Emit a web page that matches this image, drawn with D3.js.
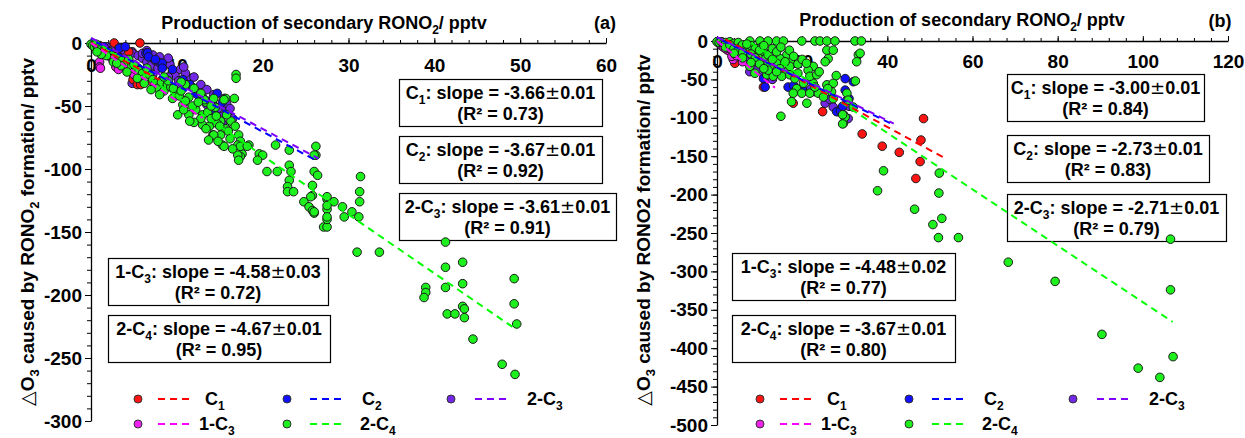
<!DOCTYPE html>
<html>
<head>
<meta charset="utf-8">
<script src="https://cdn.jsdelivr.net/npm/d3@7"></script>
<style>
  body { margin: 0; background: #fff; }
  svg { display: block; font-family: "Liberation Sans", Arial, sans-serif; font-weight: bold; }
</style>
</head>
<body>
<svg id="chart" width="1245" height="438"></svg>
<script>
// ---------------- data ----------------
// group names: [main text, subscript]
const groupNames = [["C", "1"], ["C", "2"], ["2-C", "3"], ["1-C", "3"], ["2-C", "4"]];

// Panel (a): [production of secondary RONO2, ΔO3] in pptv
const aC1 = [[0.3,-1],[0.6,-3],[1.0,-2],[1.4,-5],[2.7,0],[5.7,0],[2.0,-6],[3.0,-9],[3.6,-12],[4.4,-7],
  [4.2,-16],[4.8,-20],[5.0,-24],[4.9,-29],[5.4,-33],[5.8,-33],[6.2,-27],[8.3,-29],[7.0,-30],[3.3,-4]];
const aC2 = [[0.2,-1],[0.8,-2],[1.5,-3],[3.3,-4],[4.0,-3],[6.4,-8],[6.6,-7.7],[6.7,-11],[8.1,-16],[8.3,-16],
  [8.3,-20],[7.5,-13],[9.5,-21],[10.7,-29],[12.5,-41],[12.4,-41],[14.3,-53],[14.7,-40],[15.3,-47],[11.5,-33],[13.5,-46]];
const a2C3 = [[0.2,-1],[0.5,-2],[1,-4],[1.8,-3],[2.5,-5],[3.5,-6],[4.8,-6.9],[4.8,-8],[5.5,-10],[6,-12],
  [6.5,-15],[7,-18],[5.5,-20],[5,-26],[4.8,-32],[5.3,-25],[6.0,-22],[7.2,-25],[7.8,-20],[8.7,-33],
  [9.5,-23],[9.8,-26],[10.2,-30],[11.2,-29],[11.6,-28],[11.8,-35],[12.5,-38],[13,-43],[13.5,-49],[14.2,-49],
  [14.7,-57],[15.3,-64],[15.3,-58],[15.5,-51],[15.5,-44],[14.8,-52],[16,-55],[16.5,-60],[9,-27],[10,-35],
  [6.7,-9.5],[6.0,-8.2],[7.2,-9.5],[7.5,-14],[8.5,-18],[9.2,-17],[10.4,-21],[11,-24],[12,-27],[12.8,-33],
  [13.5,-37],[14.3,-41],[15.8,-48],[16.2,-52],[10.8,-19],[6.5,-6],[8,-11],[9,-12]];
const a1C3 = [[0.1,-1],[0.5,-3],[1,-15],[1,-19],[1.1,-20],[2.1,-9.5],[2.9,-19],[3.2,-21],[1.6,-7],[4,-18],
  [5,-25],[6,-29],[2.4,-12]];
const a2C4 = [[0,-1],[0.2,-2],[0.4,-3],[0.6,-1],[0.8,-4],[1,-5.6],[1.3,-7],[1.6,-6],[2.1,-6.9],[2.4,-10],
  [2.8,-11],[3.3,-12],[3.6,-14],[4.1,-16],[4.4,-13],[4.7,-19],[5.2,-21],[5.6,-22],[6.0,-24],[6.4,-27],
  [6.8,-25],[7.2,-29],[7.5,-32],[7.8,-36],[8.2,-31],[8.5,-38],[8.9,-33],[9.3,-35],[9.9,-40],[9.5,-44],
  [10.3,-42],[11,-33],[12,-36],[11.4,-43],[10.7,-49],[10.1,-57],[11.4,-57],[12.2,-53],[13,-57],[13.4,-47],
  [14.3,-44],[15.7,-44],[16.7,-44],[14.5,-51],[13,-65],[13.8,-66],[14.2,-73],[15.1,-73],[15.1,-62],[15.7,-68],
  [13.4,-68],[16.9,-25],[16.9,-28],[17.2,-73],[17.4,-78],[15.3,-81],[17.1,-81],[18.4,-81],[17.6,-88],[19.6,-88],
  [21.5,-81],[23.1,-85],[15.5,-45],[13.2,-45],[14.7,-64],[14.3,-73],[17.4,-82],[18.2,-82],[15.5,-82],[20,-89],
  [26.2,-82],[26.2,-89],[17.4,-90],[17.1,-89],[17.2,-93],[19.4,-93],[20.5,-102],[21.7,-102],[23.1,-97],[23.3,-102],
  [23.1,-109],[22.9,-114],[22.9,-118],[23.6,-118],[24.8,-126],[25.4,-130],[25.8,-133],[26,-135],[25.8,-121],[25.8,-113],
  [26,-102],[26.4,-105],[26,-89],[27.1,-146],[27.5,-146],[27.5,-140],[27.5,-132],[27.5,-124],[25.6,-122],[26,-134],
  [27.5,-122],[28.3,-126],[27.5,-129],[27.5,-138],[29.3,-130],[29.5,-138],[30.4,-134],[31.2,-138],[31.4,-106],[31.3,-118],
  [31.3,-126],[31,-166],[33.6,-166],[41.3,-158],[41.3,-178],[43.3,-174],[43.3,-191],[41.3,-194],[39,-194],[39,-198],
  [38.8,-202],[49.3,-187],[49.3,-207],[43.3,-209],[41.5,-215],[42.4,-215],[43.5,-211],[43.5,-218],[44.5,-235],
  [49.6,-223],[47.9,-255],[49.4,-263],
  [9,-30],[9.6,-36],[10.5,-38],[11,-46],[11.8,-50],[12.5,-47],[12.8,-60],[13.6,-55],[14,-60],[14.6,-58],
  [15,-66],[16,-70],[16.3,-62],[12,-63],[11.5,-62],[10.8,-53],[13.7,-77],[14.8,-78],[16.2,-76],[16.5,-84],
  [8,-41],[7,-37],[6.2,-32],[5.4,-28],[4.2,-23],[3.5,-18],[2.6,-15],[1.8,-10],[1.2,-9],[0.7,-7],
  [3,-16],[5,-17],[6.5,-20],[8.5,-27],[10.5,-31],[12.8,-40],[14,-50],[15.8,-57],[16.8,-66]];

// Panel (b)
const bC1 = [[0.3,-1],[1,-3],[2,-5],[4.2,-29],[3,-12],[10.9,-60],[17.9,-81],[24.8,-92],[34.1,-121],[38.8,-137],
  [42.8,-145],[47.7,-157],[47.9,-129],[48.5,-101],[46.7,-179]];
const bC2 = [[0.2,-1],[0.5,-2],[1,-1],[2,-3],[3,-4],[5,-8],[7,-12],[9,-20],[10.9,-49],[11.3,-60],
  [16.7,-60],[18,-58],[20,-62],[23,-66],[28.1,-92],[29,-91],[30.1,-49],[30.1,-64],[32,-53],[31,-75],[29.5,-85]];
const b2C3 = [[0.1,-1],[0.5,-3],[1,-5],[1.5,-4],[2,-8],[3,-10],[4,-14],[5,-18],[6,-20],[7,-25],
  [7.7,-40],[9.5,-36],[11,-45],[13,-50],[14,-42],[22,-63],[25.4,-81],[26.5,-76],[27.3,-86],[29.7,-96],
  [30.5,-77],[31,-85],[28.5,-92],[30.8,-101]];
const b1C3 = [[0.2,-1],[0.6,-3],[1,-6],[1.5,-8],[2.5,-12],[3.8,-16],[3.8,-24],[3.5,-20],[4.5,-19],[6,-27],[2,-10]];
const b2C4 = [[7.7,0],[10.1,0],[12,0],[14,0],[15.6,0],[19.9,0],[23,0],[24.2,0],[25.8,0],[27.7,0],[32.4,0],[33.9,0],
  [0,-1],[0.5,-2],[1,-1],[1.5,-3],[2,-2],[2.5,-4],[3,-1],[3.1,-9.5],[1.9,-5],[4.6,-5],[4,-3],[5,-2],[5.5,-8],
  [6.2,-12],[6,-5],[7,-10],[7.7,-14],[8,-6],[8.5,-20],[9,-10],[9.3,-27],[10.1,-18],[10.5,-8],[11,-14],[11.5,-22],
  [12,-30],[7.7,-33],[8.9,-42],
  [25.8,-12],[27.3,-12],[26.1,-23],[25.4,-27],[22.6,-33],[21.4,-38],[33.2,-18],[32.8,-27],[17.5,-25],[16.4,-18],
  [14.8,-23],[14,-29],[12.4,-33],[14.8,-36],[16.4,-40],[17.1,-33],[11.7,-44],[13.2,-46],[15.2,-46],[17.1,-44],
  [18.3,-49],[12,-38],[20.3,-55],[22.6,-55],[21.8,-46],[23.4,-44],[18.7,-62],[17.9,-68],[19.9,-68],[21.8,-68],
  [23.8,-68],[25.8,-57],[27.3,-55],[26.9,-66],[25,-73],[21.1,-81],[17.5,-79],[15,-98],[29.7,-107],[30.1,-99],
  [27.3,-75],[32,-86],[32.5,-52],[30.5,-68],[30.8,-77],[29.5,-96],[29.5,-108],[33.6,-16],
  [2,-8],[3,-5],[4,-10],[5,-12],[6,-15],[7,-4],[8,-17],[9,-22],[10,-12],[11,-6],
  [12,-18],[13,-10],[14,-14],[15,-8],[16,-27],[17,-12],[18,-20],[19,-30],[20,-24],[13,-24],
  [10,-30],[6,-22],[4,-16],[8,-28],[11,-36],[14,-40],[19,-42],[21,-29],[24,-40],[28,-45],[26,-62],[23,-60],
  [39.1,-169],[37.7,-195],[46.4,-219],[50.7,-239],[52,-256],[52.2,-172],[52.1,-198],[52.8,-231],[56.7,-256],
  [68.4,-288],[79.4,-313],[106.5,-258],[106.5,-324],[90.4,-382],[98.9,-426],[104,-438],[107.1,-411]];

// linear fits per group (C1, C2, 2-C3, 1-C3, 2-C4)
const slopesA = [-3.66, -3.67, -3.61, -4.58, -4.67];
const errorsA = [0.01, 0.01, 0.01, 0.03, 0.01];
const r2A = [0.73, 0.92, 0.91, 0.72, 0.95];
const interceptsA = [0, 3, 4, 0, 4];
const fitRangesA = [[0, 8], [0, 26], [0, 26.5], [0, 13], [0, 49.6]];

const slopesB = [-3.00, -2.73, -2.71, -4.48, -3.67];
const errorsB = [0.01, 0.01, 0.01, 0.02, 0.01];
const r2B = [0.84, 0.83, 0.79, 0.77, 0.80];
const interceptsB = [8, 4, 5, 0, 27];
const fitRangesB = [[2, 53], [0, 41], [0, 41.5], [0, 13.6], [8, 107]];

// axis tick labels
const xTicksA = [0, 10, 20, 30, 40, 50, 60];
const yTicksA = [0, -50, -100, -150, -200, -250, -300];
const xTicksB = [0, 20, 40, 60, 80, 100, 120];
const yTicksB = [0, -50, -100, -150, -200, -250, -300, -350, -400, -450, -500];

// ---------------- styles ----------------
const pointColors = ["#ff1414", "#1010ff", "#7228e6", "#ee22ee", "#1ef01e"];
const lineColors = ["#ff0000", "#0000ff", "#7f00ff", "#ff00ff", "#00ff00"];
const pointOrder = [2, 0, 1, 3, 4];
const lineOrder = [4, 0, 3, 1, 2];

const panels = [
  {
    groups: [aC1, aC2, a2C3, a1C3, a2C4],
    slopes: slopesA, errors: errorsA, r2: r2A, intercepts: interceptsA, ranges: fitRangesA,
    x: d3.scaleLinear().domain([0, 60]).range([91, 606]),
    y: d3.scaleLinear().domain([0, -300]).range([43, 421]),
    xTicks: xTicksA, yTicks: yTicksA, xMinorStep: 2, yMinorStep: 10,
    xLabelPad: 16,
    tag: "(a)", tagX: 605, tagY: 29,
    xTitleX: 324, xTitleY: 29,
    yTitleX: 34, yTitleY: 232, yTitleSub: true,
    boxes: [[399, 79, 203], [399, 136, 203], [399, 193, 217], [108, 258, 220], [108, 315, 222]],
    legendDx: 0
  },
  {
    groups: [bC1, bC2, b2C3, b1C3, b2C4],
    slopes: slopesB, errors: errorsB, r2: r2B, intercepts: interceptsB, ranges: fitRangesB,
    x: d3.scaleLinear().domain([0, 120]).range([717, 1228]),
    y: d3.scaleLinear().domain([0, -500]).range([41, 425]),
    xTicks: xTicksB, yTicks: yTicksB, xMinorStep: 4, yMinorStep: 10,
    xLabelPad: 14,
    tag: "(b)", tagX: 1220, tagY: 27,
    xTitleX: 962, xTitleY: 26,
    yTitleX: 650, yTitleY: 230, yTitleSub: false,
    boxes: [[1007, 74, 197], [1007, 135, 202], [1007, 194, 219], [732, 253, 223], [732, 315, 223]],
    legendDx: 622
  }
];

const svg = d3.select("#chart");

// writes [text, kind] pieces into a <text>; kind: "sub" lowers and shrinks, "sym" uses a light symbol font
function writeRuns(textSel, runs, subSize) {
  let carry = 0;
  runs.forEach(([t, kind]) => {
    const ts = textSel.append("tspan").text(t);
    if (kind === "sub") {
      ts.attr("dy", 5 + carry).attr("font-size", subSize);
      carry = -5;
    } else {
      if (carry) ts.attr("dy", carry);
      carry = 0;
      if (kind === "sym") ts.attr("font-family", "DejaVu Sans").attr("font-weight", "normal");
    }
  });
}

panels.forEach(p => {
  const g = svg.append("g");
  const x = p.x, y = p.y;
  const xMax = x.domain()[1], yMin = y.domain()[1];

  // ---- axes ----
  const xMinor = d3.range(0, xMax + 0.001, p.xMinorStep);
  const yMinor = d3.range(0, yMin - 0.001, -p.yMinorStep);

  g.append("g").attr("transform", `translate(0,${y(0)})`)
    .call(d3.axisTop(x).tickValues(xMinor).tickSize(3).tickSizeOuter(0).tickFormat(""))
    .call(s => s.select(".domain").attr("stroke-width", 1.3));
  g.append("g").attr("transform", `translate(0,${y(0)})`)
    .call(d3.axisTop(x).tickValues(p.xTicks).tickSize(5).tickFormat(""))
    .call(s => s.select(".domain").remove());
  g.append("g").attr("transform", `translate(0,${y(0)})`)
    .call(d3.axisBottom(x).tickValues(p.xTicks).tickSize(0).tickPadding(p.xLabelPad).tickFormat(d => String(d)))
    .call(s => s.select(".domain").remove())
    .call(s => s.selectAll("text").attr("font-size", 19).attr("font-family", "Liberation Sans").attr("font-weight", "bold").attr("fill", "#000"));

  g.append("g").attr("transform", `translate(${x(0)},0)`)
    .call(d3.axisLeft(y).tickValues(yMinor).tickSize(4).tickSizeOuter(0).tickFormat(""))
    .call(s => s.select(".domain").attr("stroke-width", 1.3));
  g.append("g").attr("transform", `translate(${x(0)},0)`)
    .call(d3.axisLeft(y).tickValues(p.yTicks).tickSize(6).tickPadding(3).tickFormat(d => String(d)))
    .call(s => s.select(".domain").remove())
    .call(s => s.selectAll("text").attr("font-size", 19).attr("font-family", "Liberation Sans").attr("font-weight", "bold").attr("fill", "#000"));

  // ---- titles ----
  const xt = g.append("text").attr("x", p.xTitleX).attr("y", p.xTitleY)
    .attr("text-anchor", "middle").attr("font-size", 18);
  writeRuns(xt, [["Production of secondary RONO"], ["2", "sub"], ["/ pptv"]], 12);

  g.append("text").attr("x", p.tagX).attr("y", p.tagY).attr("text-anchor", "middle")
    .attr("font-size", 18).text(p.tag);

  const yt = g.append("text")
    .attr("transform", `translate(${p.yTitleX},${p.yTitleY}) rotate(-90)`)
    .attr("text-anchor", "middle").attr("font-size", 19);
  if (p.yTitleSub) {
    writeRuns(yt, [["\u25B3", "sym"], ["O"], ["3", "sub"], [" caused by RONO"], ["2", "sub"], [" formation/ pptv"]], 13);
  } else {
    writeRuns(yt, [["\u25B3", "sym"], ["O"], ["3", "sub"], [" caused by RONO2 formation/ pptv"]], 13);
  }

  // ---- fit annotation boxes ----
  p.boxes.forEach(([bx, by, bw], i) => {
    g.append("rect").attr("x", bx + 0.5).attr("y", by + 0.5).attr("width", bw).attr("height", 47)
      .attr("fill", "none").attr("stroke", "#000").attr("stroke-width", 1.2);
    const cx = bx + bw / 2;
    const t1 = g.append("text").attr("x", cx).attr("y", by + 20).attr("text-anchor", "middle").attr("font-size", 18);
    writeRuns(t1, [[groupNames[i][0]], [groupNames[i][1], "sub"],
      [": slope = " + p.slopes[i].toFixed(2)], ["\u00B1", "sym"], [p.errors[i].toFixed(2)]], 12);
    g.append("text").attr("x", cx).attr("y", by + 41).attr("text-anchor", "middle").attr("font-size", 18)
      .text("(R\u00B2 = " + p.r2[i].toFixed(2) + ")");
  });

  // ---- scatter points ----
  pointOrder.forEach(i => {
    g.append("g").selectAll("circle").data(p.groups[i]).join("circle")
      .attr("cx", d => x(d[0])).attr("cy", d => y(d[1])).attr("r", 4.3)
      .attr("fill", pointColors[i]).attr("stroke", "#1a1a1a").attr("stroke-width", 1);
  });

  // ---- fitted lines ----
  lineOrder.forEach(i => {
    const [x0, x1] = p.ranges[i];
    const f = v => p.slopes[i] * v + p.intercepts[i];
    g.append("line")
      .attr("x1", x(x0)).attr("y1", y(f(x0))).attr("x2", x(x1)).attr("y2", y(f(x1)))
      .attr("stroke", lineColors[i]).attr("stroke-width", 2).attr("stroke-dasharray", "7,5")
      .attr("stroke-dashoffset", i === 1 ? 6 : 0);
  });

  // ---- legend ----
  const cols = [0, 1, 2, 0, 1], rows = [0, 0, 0, 1, 1];
  const circleX = [138, 287, 451], dashX = [[158, 193], [310, 346], [475, 511]];
  const textX = [205, 362, 527, 199, 360], rowY = [399, 424];
  groupNames.forEach((nm, i) => {
    const dx = p.legendDx, cy = rowY[rows[i]], c = cols[i];
    g.append("circle").attr("cx", circleX[c] + dx).attr("cy", cy).attr("r", 4)
      .attr("fill", pointColors[i]).attr("stroke", "#333").attr("stroke-width", 1);
    g.append("line").attr("x1", dashX[c][0] + dx).attr("x2", dashX[c][1] + dx).attr("y1", cy).attr("y2", cy)
      .attr("stroke", lineColors[i]).attr("stroke-width", 2).attr("stroke-dasharray", "7,5");
    const t = g.append("text").attr("x", textX[i] + dx).attr("y", cy + 6).attr("font-size", 18);
    writeRuns(t, [[nm[0]], [nm[1], "sub"]], 12);
  });
});
</script>
</body>
</html>
